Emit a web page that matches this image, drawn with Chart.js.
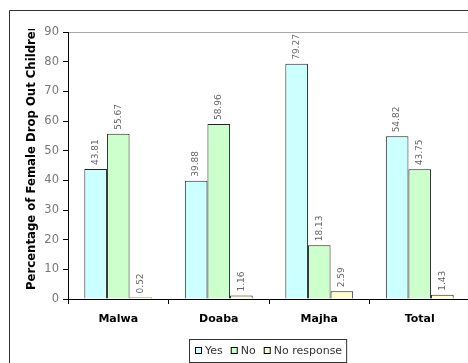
<!DOCTYPE html>
<html>
<head>
<meta charset="utf-8">
<script src="https://cdn.jsdelivr.net/npm/chart.js@4/dist/chart.umd.min.js"></script>
<style>
  html, body { margin: 0; padding: 0; background: #fff; overflow: hidden; }
  #wrap { width: 472px; height: 363px; }
</style>
</head>
<body>
<div id="wrap"><canvas id="c" width="472" height="363"></canvas></div>
<script>
// Regions and survey responses (%)
const regions = ['Malwa', 'Doaba', 'Majha', 'Total'];
const yesValues = [43.81, 39.88, 79.27, 54.82];
const noValues = [55.67, 58.96, 18.13, 43.75];
const noResponseValues = [0.52, 1.16, 2.59, 1.43];
const yTicks = [0, 10, 20, 30, 40, 50, 60, 70, 80, 90];
const yTitle = 'Percentage of Female Drop Out Children';

const FONT = '"DejaVu Sans", Verdana, sans-serif';

// Outer frame, clipped axis title and a boxed legend
const decorations = {
  id: 'decorations',
  beforeDraw(chart) {
    const ctx = chart.ctx;
    ctx.save();
    ctx.fillStyle = '#fff';
    ctx.fillRect(0, 0, chart.width, chart.height);
    ctx.strokeStyle = '#333';
    ctx.lineWidth = 1;
    ctx.beginPath();
    ctx.moveTo(9.5, chart.height + 5);
    ctx.lineTo(9.5, 10.5);
    ctx.lineTo(chart.width + 5, 10.5);
    ctx.stroke();
    ctx.restore();
  },
  afterDraw(chart) {
    const ctx = chart.ctx;
    // rotated y-axis title, cut off near the top of the frame
    ctx.save();
    ctx.beginPath();
    ctx.rect(0, 29, 60, chart.height);
    ctx.clip();
    ctx.translate(32, 290);
    ctx.rotate(-Math.PI / 2);
    ctx.font = 'bold 11.7px ' + FONT;
    ctx.fillStyle = '#000';
    ctx.textAlign = 'left';
    ctx.textBaseline = 'middle';
    ctx.fillText(yTitle, 0, 0);
    ctx.restore();

    // legend
    ctx.save();
    ctx.font = '11px ' + FONT;
    ctx.textBaseline = 'middle';
    ctx.textAlign = 'left';
    const cy = 351;
    let x = 195;
    chart.data.datasets.forEach(ds => {
      ctx.fillStyle = ds.backgroundColor;
      ctx.fillRect(x, cy - 3, 6, 6);
      ctx.strokeStyle = '#000';
      ctx.lineWidth = 1;
      ctx.strokeRect(x + 0.5, cy - 3.5, 6, 6);
      ctx.fillStyle = '#333';
      ctx.fillText(ds.label, x + 10, cy);
      x += 10 + ctx.measureText(ds.label).width + 8;
    });
    ctx.strokeStyle = '#333';
    ctx.strokeRect(189.5, 339.5, x - 8 + 4 - 189, 23);
    ctx.restore();
  }
};

// Rotated value labels above each bar
const barValues = {
  id: 'barValues',
  afterDatasetsDraw(chart) {
    const ctx = chart.ctx;
    ctx.save();
    ctx.font = '9px ' + FONT;
    ctx.fillStyle = '#666';
    ctx.textAlign = 'left';
    ctx.textBaseline = 'middle';
    chart.data.datasets.forEach((ds, i) => {
      chart.getDatasetMeta(i).data.forEach((bar, j) => {
        ctx.save();
        ctx.translate(bar.x, bar.y - 4);
        ctx.rotate(-Math.PI / 2);
        ctx.fillText(ds.data[j].toFixed(2), 0, 0);
        ctx.restore();
      });
    });
    ctx.restore();
  }
};

new Chart(document.getElementById('c'), {
  type: 'bar',
  data: {
    labels: regions,
    datasets: [
      { label: 'Yes', data: yesValues, backgroundColor: '#CCFFFF' },
      { label: 'No', data: noValues, backgroundColor: '#CCFFCC' },
      { label: 'No response', data: noResponseValues, backgroundColor: '#FFFFCC' }
    ]
  },
  options: {
    responsive: false,
    animation: false,
    devicePixelRatio: 1,
    layout: { padding: { left: 0, top: 32, right: 2, bottom: 0 } },
    datasets: {
      bar: {
        borderColor: '#222',
        borderWidth: 1,
        borderSkipped: 'bottom',
        categoryPercentage: 0.675,
        barPercentage: 1
      }
    },
    plugins: {
      legend: { display: false },
      tooltip: { enabled: false }
    },
    scales: {
      x: {
        afterFit(scale) { scale.height = 64; },
        grid: {
          offset: true,
          drawOnChartArea: false,
          drawTicks: true,
          tickLength: 5,
          tickColor: '#000'
        },
        border: { color: '#000', width: 1 },
        ticks: {
          padding: 9,
          color: '#000',
          font: { family: FONT, size: 11, weight: 'bold' }
        }
      },
      y: {
        min: 0,
        max: 90,
        afterFit(scale) { scale.width = 68; },
        afterBuildTicks(scale) { scale.ticks = yTicks.map(v => ({ value: v })); },
        grid: {
          color: c => (c.tick && c.tick.value === 90 ? '#a8a8a8' : 'rgba(0,0,0,0)'),
          lineWidth: 1,
          drawTicks: true,
          tickLength: 5,
          tickColor: '#000'
        },
        border: { color: '#000', width: 1 },
        ticks: {
          padding: 4,
          color: '#777',
          font: { family: FONT, size: 11.5 }
        }
      }
    }
  },
  plugins: [decorations, barValues]
});
</script>
</body>
</html>
